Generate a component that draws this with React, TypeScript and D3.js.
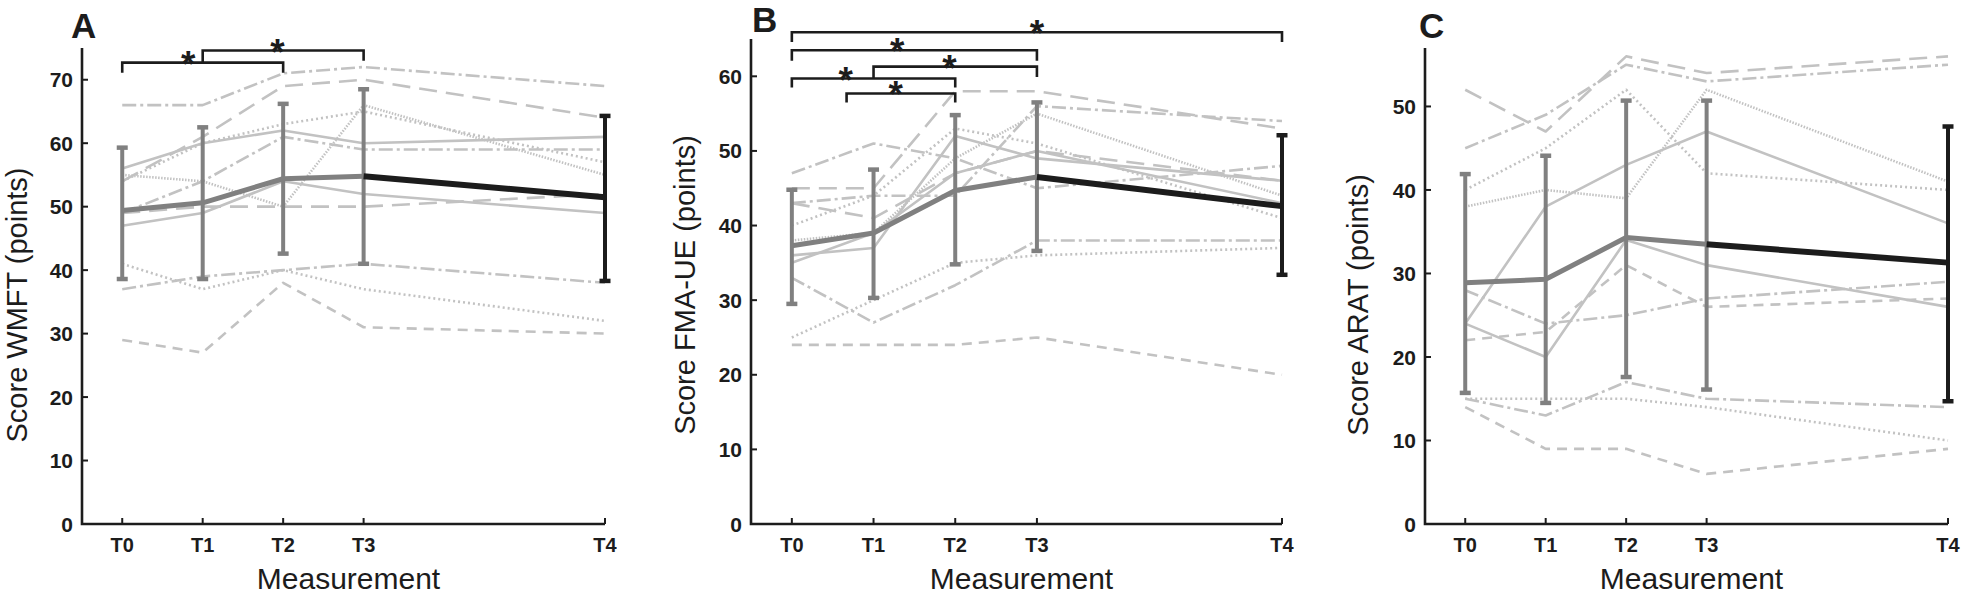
import React from "react";
import * as d3 from "d3";

// ---------- data ----------
const timeLabels = ["T0", "T1", "T2", "T3", "T4"];
const timePositions = [0, 1, 2, 3, 6];

const wmftSubjects = [
  [66, 66, 71, 72, 69],
  [54, 61, 69, 70, 64],
  [56, 60, 62, 60, 61],
  [54, 60, 63, 65, 57],
  [49, 54, 61, 59, 59],
  [55, 54, 50, 66, 55],
  [49, 50, 50, 50, 52],
  [47, 49, 54, 52, 49],
  [41, 37, 40, 37, 32],
  [37, 39, 40, 41, 38],
  [29, 27, 38, 31, 30],
];
const wmftStyles = ["dashdot", "longdash", "solid", "dotted", "dashdot", "finedot", "longdash", "solid", "dotted", "dashdot", "dashed"];
const wmftMean = [49.4, 50.6, 54.4, 54.8, 51.5];
const wmftUpper = [59.3, 62.5, 66.2, 68.5, 64.3];
const wmftLower = [38.6, 38.6, 42.6, 41.0, 38.3];
const wmftTicks = [0, 10, 20, 30, 40, 50, 60, 70];
const wmftBrackets = [
  { from: 0, to: 2, level: 72.7, leftEnd: 71.1, rightEnd: 71.1, star: 0.82 },
  { from: 1, to: 3, level: 74.6, leftEnd: 72.7, rightEnd: 73.0, star: 1.93 },
];

const fmaSubjects = [
  [47, 51, 49, 45, 48],
  [45, 45, 58, 58, 53],
  [43, 44, 44, 56, 54],
  [40, 44, 53, 51, 41],
  [43, 41, 47, 50, 46],
  [38, 39, 49, 55, 44],
  [36, 37, 52, 49, 46],
  [35, 39, 47, 50, 43],
  [33, 27, 32, 38, 38],
  [25, 30, 35, 36, 37],
  [24, 24, 24, 25, 20],
];
const fmaStyles = ["dashdot", "longdash", "dashdot", "dotted", "longdash", "finedot", "solid", "solid", "dashdot", "dotted", "dashed"];
const fmaMean = [37.3, 39.0, 44.7, 46.5, 42.6];
const fmaUpper = [44.8, 47.5, 54.8, 56.5, 52.1];
const fmaLower = [29.5, 30.3, 34.8, 36.6, 33.4];
const fmaTicks = [0, 10, 20, 30, 40, 50, 60];
const fmaBrackets = [
  { from: 0, to: 6, level: 65.9, leftEnd: 64.6, rightEnd: 64.6, star: 3.0 },
  { from: 0, to: 3, level: 63.5, leftEnd: 62.1, rightEnd: 62.1, star: 1.29 },
  { from: 1, to: 3, level: 61.3, leftEnd: 59.7, rightEnd: 59.9, star: 1.93 },
  { from: 0, to: 2, level: 59.7, leftEnd: 58.5, rightEnd: 58.5, star: 0.66 },
  { from: 0.67, to: 2, level: 57.7, leftEnd: 56.5, rightEnd: 56.5, star: 1.27 },
];

const aratSubjects = [
  [52, 47, 56, 54, 56],
  [45, 49, 55, 53, 55],
  [40, 45, 52, 42, 40],
  [38, 40, 39, 52, 41],
  [24, 38, 43, 47, 36],
  [24, 20, 34, 31, 26],
  [28, 24, 25, 27, 29],
  [22, 23, 31, 26, 27],
  [15, 13, 17, 15, 14],
  [15, 15, 15, 14, 10],
  [14, 9, 9, 6, 9],
];
const aratStyles = ["longdash", "dashdot", "dotted", "finedot", "solid", "solid", "dashdot", "dashed", "dashdot", "dotted", "dashed"];
const aratMean = [28.9, 29.3, 34.3, 33.5, 31.3];
const aratUpper = [41.9, 44.1, 50.7, 50.7, 47.6];
const aratLower = [15.7, 14.5, 17.6, 16.1, 14.7];
const aratTicks = [0, 10, 20, 30, 40, 50];
const aratBrackets: typeof wmftBrackets = [];

// ---------- styles ----------
const dashes: Record<string, string | undefined> = {
  solid: undefined,
  dashed: "10,7",
  longdash: "18,9",
  dashdot: "14,4,3,4",
  dotted: "2,3",
  finedot: "1.5,1.5",
};
const FONT = "'Liberation Sans', Arial, Helvetica, sans-serif";
const LIGHT = "#c2c2c2";
const GRAY = "#808080";
const DARK = "#1c1c1c";
const BOTTOM = 524;

type PanelCfg = {
  letter: string;
  letterX: number;
  letterY: number;
  x0: number;
  x1: number;
  yTop: number;
  yMax: number;
  ticks: number[];
  yLabel: string;
  yLabelX: number;
  yLabelY: number;
  subjects: number[][];
  styles: string[];
  mean: number[];
  upper: number[];
  lower: number[];
  brackets: typeof wmftBrackets;
};

function Panel({ cfg }: { cfg: PanelCfg }) {
  const x = d3.scaleLinear().domain([-0.5, 6]).range([cfg.x0, cfg.x1]);
  const y = d3.scaleLinear().domain([0, cfg.yMax]).range([BOTTOM, cfg.yTop]);
  const line = d3
    .line<number>()
    .x((_, i) => x(timePositions[i]))
    .y((d) => y(d));
  const meanPts = cfg.mean;
  const grayPath = d3
    .line<number>()
    .x((_, i) => x(timePositions[i]))
    .y((d) => y(d))(meanPts.slice(0, 4));
  const blackPath = d3
    .line<number>()
    .x((_, i) => x(timePositions[i + 3]))
    .y((d) => y(d))(meanPts.slice(3));

  return (
    <g>
      {cfg.subjects.map((s, i) => (
        <path
          key={i}
          d={line(s) || ""}
          fill="none"
          stroke={LIGHT}
          strokeWidth={2.6}
          strokeDasharray={dashes[cfg.styles[i]]}
          strokeLinejoin="round"
        />
      ))}
      {timePositions.map((t, i) => {
        const c = i < 4 ? GRAY : DARK;
        const cx = x(t);
        return (
          <g key={i}>
            <line x1={cx} x2={cx} y1={y(cfg.lower[i])} y2={y(cfg.upper[i])} stroke={c} strokeWidth={4} />
            <line x1={cx - 5.5} x2={cx + 5.5} y1={y(cfg.upper[i])} y2={y(cfg.upper[i])} stroke={c} strokeWidth={4.5} />
            <line x1={cx - 5.5} x2={cx + 5.5} y1={y(cfg.lower[i])} y2={y(cfg.lower[i])} stroke={c} strokeWidth={4.5} />
          </g>
        );
      })}
      <path d={grayPath || ""} fill="none" stroke={GRAY} strokeWidth={5} strokeLinejoin="round" />
      <path d={blackPath || ""} fill="none" stroke={DARK} strokeWidth={6} strokeLinejoin="round" />
      {cfg.brackets.map((b, i) => {
        const xa = x(b.from);
        const xb = x(b.to);
        const yl = y(b.level);
        return (
          <g key={i}>
            <path
              d={`M${xa},${y(b.leftEnd)}V${yl}H${xb}V${y(b.rightEnd)}`}
              fill="none"
              stroke={DARK}
              strokeWidth={2.6}
            />
            <text
              x={x(b.star)}
              y={yl - 7 + 21}
              textAnchor="middle"
              fontFamily={FONT}
              fontWeight="bold"
              fontSize={37}
              fill={DARK}
            >
              *
            </text>
          </g>
        );
      })}
      <path
        d={`M${cfg.x0},${cfg.yTop}V${BOTTOM}H${cfg.x1}`}
        fill="none"
        stroke={DARK}
        strokeWidth={2.6}
      />
      {cfg.ticks.map((v) => (
        <g key={v}>
          <line x1={cfg.x0} x2={cfg.x0 + 6} y1={y(v)} y2={y(v)} stroke={DARK} strokeWidth={2} />
          <text
            x={cfg.x0 - 9}
            y={y(v)}
            dy="0.36em"
            textAnchor="end"
            fontFamily={FONT}
            fontWeight="bold"
            fontSize={21}
            fill={DARK}
          >
            {v}
          </text>
        </g>
      ))}
      {timePositions.map((t, i) => (
        <g key={i}>
          <line x1={x(t)} x2={x(t)} y1={BOTTOM} y2={BOTTOM - 6} stroke={DARK} strokeWidth={2} />
          <text
            x={x(t)}
            y={552}
            textAnchor="middle"
            fontFamily={FONT}
            fontWeight="bold"
            fontSize={20}
            fill={DARK}
          >
            {timeLabels[i]}
          </text>
        </g>
      ))}
      <text
        x={(cfg.x0 + cfg.x1) / 2 + 5}
        y={589}
        textAnchor="middle"
        fontFamily={FONT}
        fontSize={30}
        fill={DARK}
      >
        Measurement
      </text>
      <text
        transform={`translate(${cfg.yLabelX},${cfg.yLabelY}) rotate(-90)`}
        textAnchor="middle"
        fontFamily={FONT}
        fontSize={29}
        fill={DARK}
      >
        {cfg.yLabel}
      </text>
      <text x={cfg.letterX} y={cfg.letterY} fontFamily={FONT} fontWeight="bold" fontSize={35} fill={DARK}>
        {cfg.letter}
      </text>
    </g>
  );
}

const panels: PanelCfg[] = [
  {
    letter: "A", letterX: 71, letterY: 38, x0: 82, x1: 605, yTop: 48, yMax: 75, ticks: wmftTicks,
    yLabel: "Score WMFT (points)", yLabelX: 27, yLabelY: 305,
    subjects: wmftSubjects, styles: wmftStyles, mean: wmftMean, upper: wmftUpper, lower: wmftLower, brackets: wmftBrackets,
  },
  {
    letter: "B", letterX: 752, letterY: 32, x0: 751, x1: 1282, yTop: 39, yMax: 65, ticks: fmaTicks,
    yLabel: "Score FMA-UE (points)", yLabelX: 695, yLabelY: 285,
    subjects: fmaSubjects, styles: fmaStyles, mean: fmaMean, upper: fmaUpper, lower: fmaLower, brackets: fmaBrackets,
  },
  {
    letter: "C", letterX: 1419, letterY: 38, x0: 1425, x1: 1948, yTop: 48, yMax: 57, ticks: aratTicks,
    yLabel: "Score ARAT (points)", yLabelX: 1368, yLabelY: 305,
    subjects: aratSubjects, styles: aratStyles, mean: aratMean, upper: aratUpper, lower: aratLower, brackets: aratBrackets,
  },
];

export default function App() {
  return (
    <svg
      width={1968}
      height={596}
      style={{ position: "absolute", left: 0, top: 0, background: "#fff" }}
    >
      <rect width={1968} height={596} fill="#fff" />
      {panels.map((p) => (
        <Panel key={p.letter} cfg={p} />
      ))}
    </svg>
  );
}
